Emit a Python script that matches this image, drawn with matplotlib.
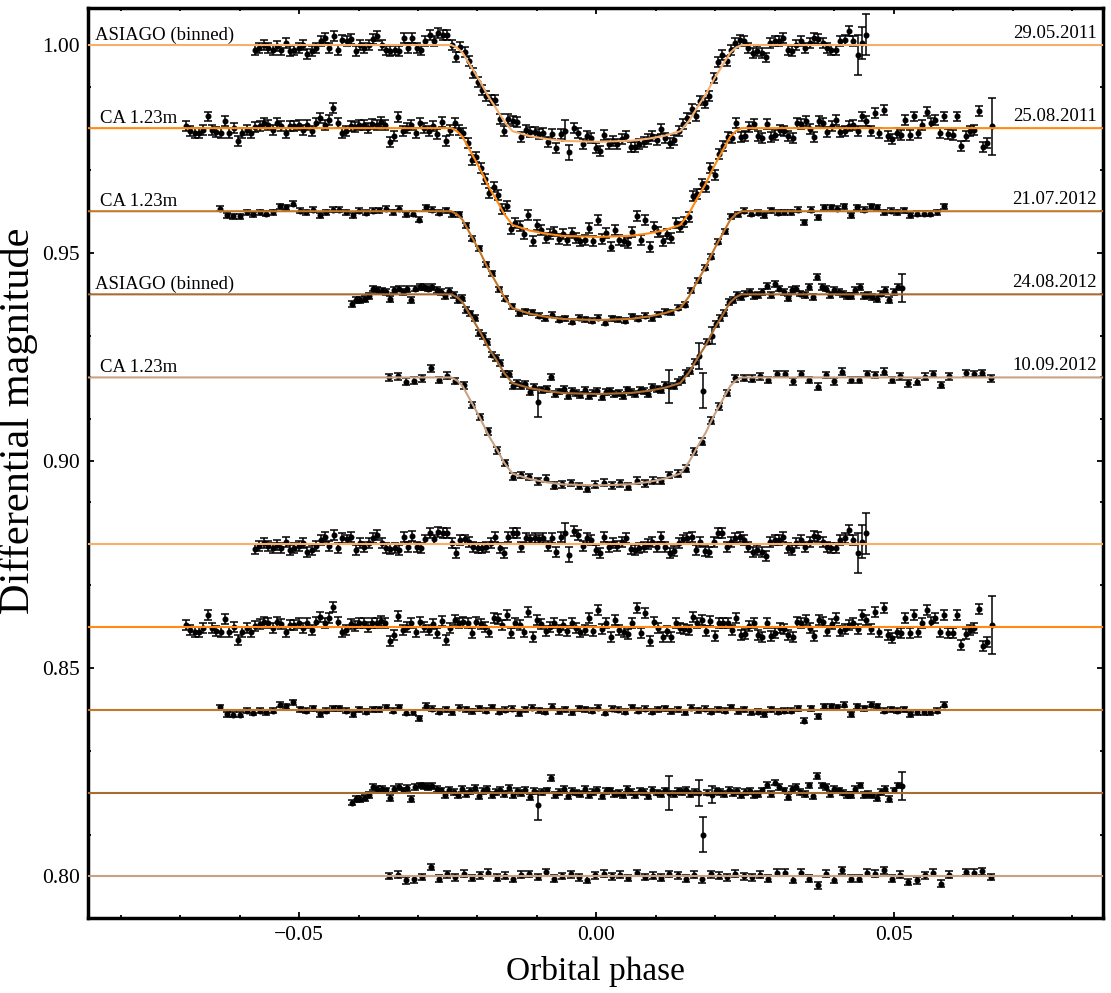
import numpy as np
import matplotlib
matplotlib.use('Agg')
import matplotlib.pyplot as plt
from matplotlib.ticker import MultipleLocator

plt.rcParams['font.family'] = ['Liberation Serif', 'DejaVu Serif']

# transit shape: fraction of full depth vs |orbital phase|
shape_phase = [0.0, 0.0057, 0.0085, 0.0113, 0.0141, 0.0155, 0.0169, 0.0183,
               0.0197, 0.0211, 0.0225, 0.0234, 0.0244, 0.1]
shape_frac = [1.00, 0.99, 0.97, 0.94, 0.89, 0.79, 0.65, 0.52,
              0.36, 0.22, 0.08, 0.03, 0.00, 0.00]

names = ['ASIAGO (binned)', 'CA 1.23m', 'CA 1.23m', 'ASIAGO (binned)', 'CA 1.23m']
dates = ['29.05.2011', '25.08.2011', '21.07.2012', '24.08.2012', '10.09.2012']
offsets = [1.00, 0.98, 0.96, 0.94, 0.92]
res_offsets = [0.88, 0.86, 0.84, 0.82, 0.80]
depths = [0.0233, 0.0262, 0.0262, 0.0240, 0.0260]
phase_start = [-0.0574, -0.0690, -0.0633, -0.0411, -0.0348]
phase_end = [0.0454, 0.0665, 0.0584, 0.0514, 0.0663]
colors = ['#F7AF6E', '#FF8A14', '#C47728', '#A96B32', '#C9A283']

# residuals in units of 1e-4 (None = no point)
res1 = [-13, -6, 1, -6, -11, -3, -11, 5, -15, -11,
        -6, 1, -21, -15, -6, 9, 17, -6, 21, -11,
        13, 10, 15, -15, 1, -7, 1, 14, 21, 1,
        -11, -14, -11, -15, 17, -7, 18, -7, -11, 10,
        25, 10, 29, 25, 25, 1, -23, 9, 10, 5,
        -7, -11, -11, -7, 1, 17, -11, -23, 17, 25,
        25, -7, 13, 10, 13, 10, 13, -6, 13, -19,
        17, 25, -27, 31, 21, -6, 13, 9, -15,
        -23, 15, -7, 2, -6, 5, 13, -14, -15, -11,
        -7, -1, 5, -7, 17, -7, -22, -17, 2, 10,
        13, 17, -15, 5, -17, -19, 5, 25, 25, -7,
        5, 13, 15, 9, -7, -19, -15, -19, -30, 5,
        9, 9, 17, -11, -15, 1, 9, -7, 5, 18,
        15, 5, -7, -11, -11, 9, 13, 33, 9, -23,
        5, 25]
res2 = [4, -8, -12, -12, -4, 28, -4, -10, -12, 18,
        -12, 0, -32, -12, -4, -12, 2, 6, 12, 8,
        -4, 12, 6, -12, 4, 4, 8, -4, 8, -8,
        12, 24, 8, 20, 48, 12, -12, -8, 6, 2,
        8, 8, 0, 10, 8, 14, 8, -34, -20, 26,
        -8, 0, 8, -12, 12, 0, -8, 6, -14, 14,
        -32, -4, 16, 8, 12, 8, -14, 12, 6, 0,
        -12, 20, 18, 4, 28, -14, 8, 4, -12, 36,
        -24, 16, 6, -10, 0, 8, -8, 4, -10, 8,
        -4, -12,
        -8, 22, -10, 40, -6, 8, -24, 16, -8, -12,
        -18, 8, 46, -14, 34, -34, 12, -2, -24, -10,
        -24, 8, -4, -6, -8, 24, 10, 16, -10, 14,
        -22, 8, 8, 10, -8, 20, -20, -18, 2, 10,
        -20, -24, 10, -22, -16, -4, -6, -20, -24, 12,
        10, 16, -2, -22, 16, 12, -10, 6, 20, -10,
        -6, 4, 8, -6, 28, 16, -6, 36, -12, 44,
        -20, -26, -12, -16, 20, -16, 28, -12, 8, 40,
        12, 20, -12, 28, -14, -16, 28, -44, -18, -8,
        -4, 42, -46, -36, 4]
res3 = [6, -10, -12, -12, -2, -7, -2, -6, -2, 12,
        9, 18, 1, -2, 4, -10, -2, 4, 4, -2,
        -10, 1, -4, 1, 2, 6, -2, 6, -7, -6,
        -20, 10,
        3, -4, 2, -6, 5, 1, -3, 4, -2, 6,
        -5, 0, 3, -8, 2, 5, -1, -4, 7, -3,
        2, -6, 4, 1, -2, 5, -7, 3, 0, -4,
        6, -2, 3, -5, 1, 4, -3, 2, -6, 5,
        -1, 3, -4, 2, -2, 6, -3, 1,
        -6, -4, -10, 2, -4, -2, -2, 4, -26, 4,
        -15, 9, 9, 6, 12, -10, 9, 4, 12, 9,
        -2, 1, -2, 2, -10, -6, -6, -6, -2, 12]
res4 = [-23, -14, -14, -12, -4, 14, 10, 9, 6, -12,
        10, 14, 6, 12, -14, 14, 18, 17, 14, 17, 10,
        6, -4, 8, 2, -6, 10, -3, 5, 12, -8,
        4, 9, -5, 3, 7, -2, 11, -6, 4, 0,
        8, -9, 5, -30, 2, 6, 36, -4, 3, 9,
        -7, 5, 1, -3, 10, -5, 2, 7, -8, 4,
        6, -2, 0, -6, 9, 3, -4, 5, 2, -7,
        8, 1, -3, 6, 0, -3, 4, 2, 7, -2,
        3, 0, -100, 1, -4, 5, 2, -3, 7, -1,
        4, -6, 2, 5,
        -4, -2, 6, 20, -2, 25, 14, 6, -10, 10,
        14, 2, -2, 18, -7, 41, 18, 14, -2, 10,
        6, 1, -4, -4, 10, 18, -4, -2, -6, -12,
        2, 10, -14, 6, 18, 16]
res5 = [0, 3, -10, -8, -2, 22, -6,
        4, -3, 6, -5, 2, 8, -4, 1, -7, 3,
        5, -2, 9, -6, 0, 4, -3, -9, 2, 6,
        -1, 3, -5, 7, -2, 1, -4, 5, 2, -6,
        3, -8, 4, 1, -3, 6, -1,
        -3, 3, -6, 8, 8, -9, 8, -6, -22, 6,
        -9, 14, -6, -6, 8, 6, 14, -6, 3, -14,
        -10, 2, 8, -18, 3, None, 10, 8, 11, -2]
residuals = [res1, res2, res3, res4, res5]

# error bar half-lengths, units of 1e-4: usual value and the larger ones
err_base = [12, 12, 6, 7, 8]
err_big = [{71: 25, 72: 18, 138: 48, 139: 39, 140: 49},
           {186: 69},
           {},
           {44: 35, 75: 40, 82: 32, 83: 42, 85: 20, 130: 34},
           {}]

fig = plt.figure(figsize=(11.11, 9.93), dpi=100)
ax = fig.add_axes([0.0792, 0.0755, 0.9136, 0.9164])

grid = np.linspace(-0.1, 0.1, 4001)
for i in range(5):
    res = residuals[i]
    ph = np.linspace(phase_start[i], phase_end[i], len(res))
    r = np.array([np.nan if v is None else v for v in res], dtype=float) * 1e-4
    err = np.full(len(res), err_base[i], dtype=float)
    for k, v in err_big[i].items():
        err[k] = v
    err *= 1e-4
    keep = ~np.isnan(r)
    model_pts = offsets[i] - depths[i] * np.interp(np.abs(ph), shape_phase, shape_frac)
    model_line = offsets[i] - depths[i] * np.interp(np.abs(grid), shape_phase, shape_frac)

    for yy in (model_pts + r, res_offsets[i] + r):
        ax.errorbar(ph[keep], yy[keep], yerr=err[keep], fmt='o', ms=3.3,
                    color='black', ecolor='black', elinewidth=1.1,
                    capsize=2.6, capthick=1.1, zorder=3)
    ax.plot(grid, model_line, color=colors[i], lw=1.5, zorder=4)
    ax.axhline(res_offsets[i], color=colors[i], lw=1.5, zorder=4)

    lx = -0.0843 if names[i].startswith('ASIAGO') else -0.0835
    ax.text(lx, offsets[i] + 0.0013, names[i], fontsize=13.5,
            ha='left', va='baseline')
    ax.text(0.0842, offsets[i] + 0.0018, dates[i], fontsize=13.5,
            ha='right', va='baseline')

ax.set_xlim(-0.0855, 0.0852)
ax.set_ylim(0.7899, 1.0089)
ax.xaxis.set_major_locator(MultipleLocator(0.05))
ax.xaxis.set_minor_locator(MultipleLocator(0.01))
ax.yaxis.set_major_locator(MultipleLocator(0.05))
ax.yaxis.set_minor_locator(MultipleLocator(0.01))
ax.tick_params(which='both', direction='in', top=True, right=True,
               labelsize=15.5, width=1.3, pad=6)
ax.tick_params(which='major', length=4.5)
ax.tick_params(which='minor', length=2.5)
for s in ax.spines.values():
    s.set_linewidth(2.5)

ax.set_xlabel('Orbital phase', fontsize=24, labelpad=8)
fig.text(0.0165, 0.576, 'Differential magnitude', fontsize=30.5,
         rotation=90, ha='center', va='center')

fig.savefig('out.png', dpi=100)
